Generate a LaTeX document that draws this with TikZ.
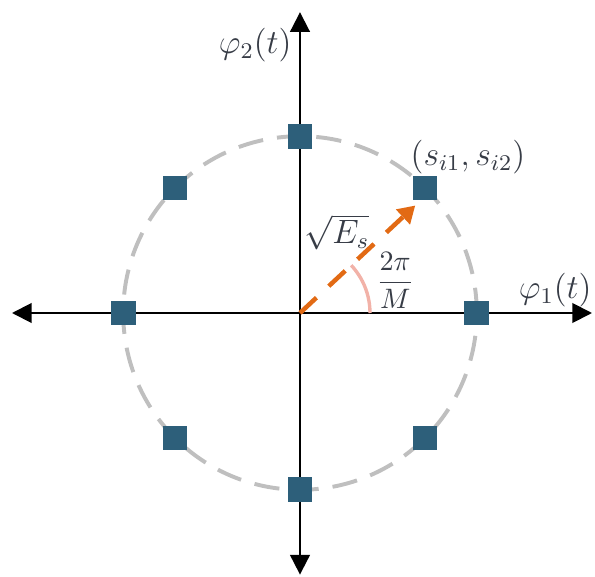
\documentclass[tikz,border=0pt]{standalone}
\usepackage{tikz}
\usetikzlibrary{angles}
\usetikzlibrary{arrows, arrows.meta}
\definecolor{symblue}{RGB}{45,95,122}
\definecolor{ringgray}{RGB}{191,191,191}
\definecolor{vecorange}{RGB}{226,106,20}
\definecolor{arcpink}{RGB}{242,178,168}
\definecolor{labelgray}{RGB}{55,60,70}

\begin{document}
\begin{tikzpicture}
\begin{scope}[>={Triangle[length=7pt,width=7pt]}, line width=0.7pt]
\useasboundingbox (-3.75,-3.3) rectangle (3.6875,3.9125);

\coordinate (O) at (0,0);
\coordinate (xl) at (-3.6,0);
\coordinate (xr) at (3.65,0);
\coordinate (yb) at (0,-3.27);
\coordinate (yt) at (0,3.76);
\coordinate (S) at (43:1.97);

\draw[<->] (xl)--(xr);
\draw[<->] (yb)--(yt);
\draw[ringgray, line width=1.4pt, dash pattern=on 9pt off 5pt] (O) circle (2.21cm);

\foreach \k in {0,...,7}
  \node[fill=symblue, minimum size=0.31cm, inner sep=0pt] (s\k) at (\k*45:2.21) {};

\draw[vecorange, line width=1.6pt, dash pattern=on 8pt off 6pt, -{Triangle[length=6pt,width=7pt]}] (O)--(S);
\path pic [draw=arcpink, line width=1.2pt, angle radius=0.875cm] {angle = xr--O--S};

\node[labelgray] (phi2) at (-0.56,3.35) {\large$\varphi_2(t)$};
\node[labelgray] (phi1) at (3.19,0.29) {\large$\varphi_1(t)$};
\node[labelgray] (sym) at (2.1,1.95) {\large$(s_{i1},s_{i2})$};
\node[labelgray] (es) at (0.46,1.01) {\large$\sqrt{E_s}$};
\node[labelgray] (ang) at (1.19,0.41) {$\displaystyle\frac{2\pi}{M}$};

\end{scope}
\end{tikzpicture}
\end{document}
